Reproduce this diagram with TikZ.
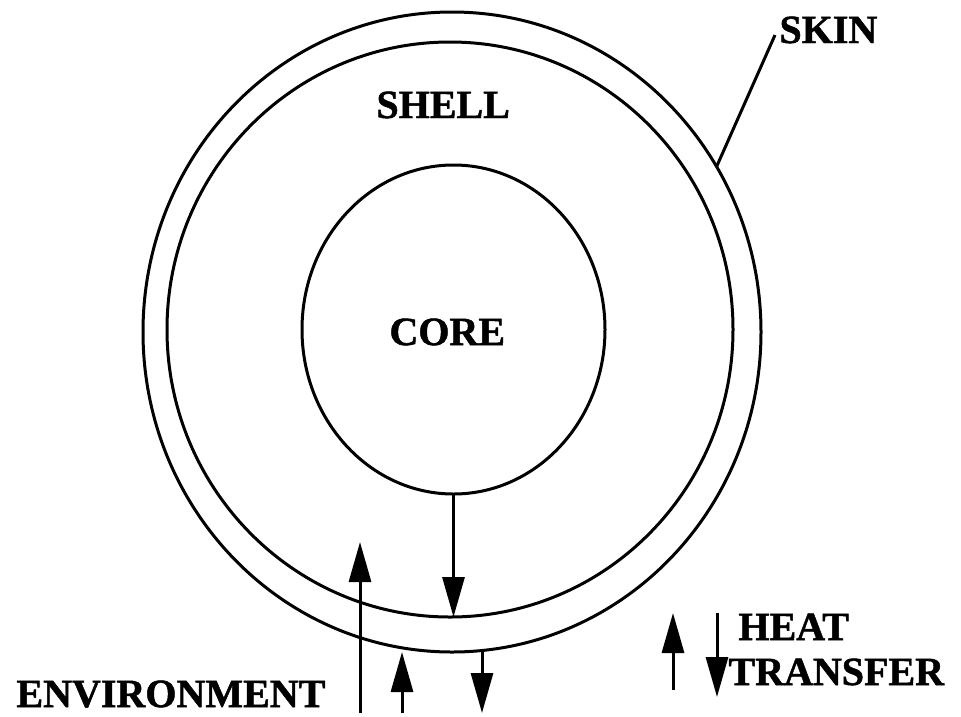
\documentclass[tikz,border=0pt]{standalone}
\usepackage{fontspec}
\setmainfont{Liberation Serif}[BoldFeatures={FakeBold=1.2}]
\usetikzlibrary{shapes.geometric,arrows.meta}
\begin{document}
\begin{tikzpicture}[x=1pt,y=-1pt, line width=3pt,
  ring/.style={draw, ellipse, inner sep=0pt, outer sep=0pt},
  lbl/.style={font=\fontsize{40}{48}\selectfont\bfseries, inner sep=0pt, anchor=base west},
  heat/.style={-{Triangle[length=40pt,width=22pt]}}]
\fill[white] (0,0) rectangle (961,716);
\useasboundingbox (0,0) rectangle (961,716);
% rings
\node[ring, minimum width=618pt, minimum height=640pt] (outer) at (452,332) {};
\node[ring, minimum width=566pt, minimum height=575pt] (skin) at (450,329.5) {};
\node[ring, minimum width=303pt, minimum height=329pt] (core) at (453.5,329.5) {};
% labels
\node[lbl] (shell) at (375,118) {SHELL};
\node[lbl] (corelbl) at (388,345) {CORE};
\node[lbl] (skinlbl) at (778,43) {SKIN};
\node[lbl] (heatlbl) at (737,640) {HEAT};
\node[lbl] (translbl) at (727,685) {TRANSFER};
\node[lbl] (envlbl) at (15,707) {ENVIRONMENT};
% leader
\coordinate (lead) at (775,35);
\draw (lead) -- (outer.32);
% heat arrows
\coordinate (a1) at (360,713);
\coordinate (a1e) at (360,542);
\coordinate (a2) at (402,713);
\coordinate (a3) at (482,713);
\draw[heat] (core.south) -- (core.south |- skin.south);
\draw[heat] (a1) -- (a1e);
\draw[heat] (a2) -- (a2 |- outer.south);
\draw[heat] (a3 |- outer.south) -- (a3);
% legend
\coordinate (l1s) at (673,690);
\coordinate (l1e) at (673,613);
\coordinate (l2s) at (717,613);
\coordinate (l2e) at (717,697);
\draw[heat] (l1s) -- (l1e);
\draw[heat] (l2s) -- (l2e);
\end{tikzpicture}
\end{document}
